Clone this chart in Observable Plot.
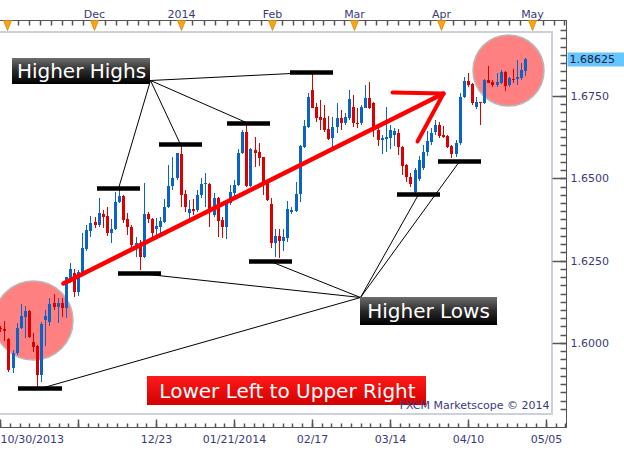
<!DOCTYPE html>
<html><head><meta charset="utf-8">
<script src="https://cdn.jsdelivr.net/npm/d3@7"></script>
<script src="https://cdn.jsdelivr.net/npm/@observablehq/plot@0.6"></script>
<style>html,body{margin:0;padding:0;background:#fff;overflow:hidden}</style>
</head><body><div id="chart"></div>
<script>
// ---- candle data (daily OHLC, oldest first) ----
const open  = [1.6044,1.6042,1.6012,1.5923,1.5969,1.6046,1.6079,1.6097,1.6003,1.5991,1.5903,1.6070,1.6064,1.6121,1.6109,1.6121,1.6106,1.6185,1.6212,1.6155,1.6215,1.6285,1.6340,1.6367,1.6358,1.6392,1.6386,1.6334,1.6346,1.6428,1.6446,1.6376,1.6352,1.6291,1.6304,1.6261,1.6392,1.6376,1.6346,1.6352,1.6367,1.6413,1.6477,1.6501,1.6574,1.6452,1.6395,1.6407,1.6404,1.6449,1.6483,1.6483,1.6389,1.6440,1.6373,1.6352,1.6425,1.6455,1.6480,1.6577,1.6641,1.6477,1.6586,1.6580,1.6565,1.6492,1.6422,1.6304,1.6325,1.6310,1.6319,1.6398,1.6401,1.6452,1.6595,1.6656,1.6768,1.6716,1.6686,1.6683,1.6650,1.6622,1.6656,1.6683,1.6668,1.6683,1.6717,1.6668,1.6668,1.6713,1.6744,1.6729,1.6647,1.6616,1.6619,1.6622,1.6632,1.6638,1.6595,1.6540,1.6504,1.6458,1.6498,1.6531,1.6580,1.6610,1.6641,1.6662,1.6632,1.6628,1.6598,1.6574,1.6607,1.6747,1.6796,1.6786,1.6717,1.6732,1.6729,1.6799,1.6792,1.6783,1.6789,1.6823,1.6783,1.6802,1.6802,1.6805,1.6826];
const high  = [1.6052,1.6068,1.6015,1.5979,1.6061,1.6118,1.6112,1.6100,1.6030,1.5994,1.6064,1.6100,1.6137,1.6149,1.6137,1.6137,1.6200,1.6243,1.6225,1.6222,1.6334,1.6358,1.6386,1.6383,1.6440,1.6404,1.6413,1.6376,1.6458,1.6468,1.6449,1.6395,1.6358,1.6322,1.6313,1.6486,1.6398,1.6380,1.6380,1.6383,1.6437,1.6540,1.6565,1.6577,1.6601,1.6465,1.6434,1.6437,1.6465,1.6501,1.6516,1.6486,1.6455,1.6443,1.6383,1.6434,1.6480,1.6495,1.6589,1.6647,1.6668,1.6592,1.6625,1.6607,1.6565,1.6495,1.6440,1.6346,1.6346,1.6346,1.6431,1.6413,1.6489,1.6601,1.6677,1.6759,1.6820,1.6729,1.6738,1.6723,1.6689,1.6686,1.6729,1.6707,1.6698,1.6768,1.6753,1.6713,1.6723,1.6783,1.6792,1.6732,1.6653,1.6632,1.6717,1.6662,1.6653,1.6650,1.6598,1.6543,1.6516,1.6531,1.6568,1.6601,1.6644,1.6653,1.6677,1.6671,1.6659,1.6632,1.6601,1.6616,1.6759,1.6808,1.6820,1.6789,1.6747,1.6732,1.6802,1.6841,1.6799,1.6820,1.6829,1.6826,1.6808,1.6832,1.6859,1.6850,1.6866];
const low   = [1.6033,1.6007,1.5912,1.5909,1.5963,1.6042,1.6015,1.6015,1.5973,1.5866,1.5881,1.5991,1.6052,1.6100,1.6061,1.6079,1.6076,1.6182,1.6140,1.6143,1.6212,1.6279,1.6322,1.6349,1.6352,1.6349,1.6325,1.6304,1.6343,1.6425,1.6364,1.6328,1.6282,1.6261,1.6222,1.6258,1.6364,1.6322,1.6328,1.6334,1.6364,1.6410,1.6465,1.6495,1.6413,1.6398,1.6367,1.6389,1.6398,1.6440,1.6413,1.6352,1.6383,1.6322,1.6319,1.6316,1.6419,1.6440,1.6477,1.6574,1.6474,1.6474,1.6534,1.6537,1.6449,1.6431,1.6288,1.6261,1.6258,1.6279,1.6307,1.6392,1.6398,1.6428,1.6592,1.6653,1.6713,1.6671,1.6647,1.6641,1.6616,1.6592,1.6638,1.6647,1.6662,1.6677,1.6656,1.6653,1.6662,1.6713,1.6710,1.6625,1.6598,1.6574,1.6580,1.6589,1.6598,1.6571,1.6510,1.6489,1.6474,1.6455,1.6492,1.6525,1.6568,1.6601,1.6632,1.6622,1.6622,1.6592,1.6562,1.6565,1.6601,1.6744,1.6777,1.6723,1.6710,1.6662,1.6726,1.6789,1.6777,1.6777,1.6786,1.6765,1.6777,1.6789,1.6783,1.6799,1.6811];
const close = [1.6041,1.6037,1.5918,1.5970,1.6046,1.6082,1.6097,1.6018,1.5988,1.5903,1.6058,1.6082,1.6118,1.6109,1.6121,1.6106,1.6200,1.6225,1.6155,1.6215,1.6288,1.6343,1.6364,1.6358,1.6395,1.6383,1.6334,1.6346,1.6428,1.6446,1.6373,1.6352,1.6297,1.6304,1.6261,1.6392,1.6376,1.6334,1.6355,1.6370,1.6413,1.6477,1.6501,1.6577,1.6449,1.6413,1.6407,1.6401,1.6449,1.6483,1.6486,1.6404,1.6440,1.6370,1.6352,1.6428,1.6458,1.6480,1.6577,1.6641,1.6477,1.6589,1.6577,1.6562,1.6489,1.6434,1.6304,1.6325,1.6310,1.6322,1.6407,1.6404,1.6452,1.6598,1.6659,1.6747,1.6713,1.6683,1.6677,1.6647,1.6619,1.6656,1.6683,1.6668,1.6686,1.6741,1.6668,1.6665,1.6717,1.6744,1.6713,1.6653,1.6616,1.6622,1.6625,1.6647,1.6644,1.6595,1.6537,1.6504,1.6483,1.6525,1.6556,1.6580,1.6613,1.6638,1.6662,1.6628,1.6625,1.6595,1.6574,1.6607,1.6747,1.6796,1.6783,1.6729,1.6732,1.6729,1.6799,1.6789,1.6783,1.6792,1.6823,1.6780,1.6805,1.6799,1.6808,1.6829,1.68625];
const lastPrice = 1.68625;

// ---- axes ----
const priceTicks = [1.6000, 1.6250, 1.6500, 1.6750];
const dateTickPos = [0, 19, 38, 57, 76, 95, 114, 133];
const dateLabels = ["10/30/2013", "", "12/23", "01/21/2014", "02/17", "03/14", "04/10", "05/05"];
const monthPos = [1.7, 22.9, 44.1, 66.3, 86.3, 107.5, 129.6];
const monthLabels = ["", "Dec", "2014", "Feb", "Mar", "Apr", "May"];

// ---- annotations ----
const highBarIdx = [28.8, 43.9, 60.5, 75.8];
const highBarLevel = [1.6471, 1.6604, 1.6668, 1.6823];
const lowBarIdx = [9.7, 33.9, 65.8, 101.9, 111.9];
const lowBarLevel = [1.5863, 1.6212, 1.6249, 1.6452, 1.6554];
const hhHub = {i: 36.52, p: 1.67985};
const hlHub = {i: 87.71, p: 1.61395};
const trendIdx = [15.31, 107.95];
const trendLevel = [1.6182, 1.6759];
const arrowIdx = [95.51, 107.95, 101.49];
const arrowLevel = [1.6762, 1.6759, 1.6613];
const circleIdx = [7.99, 123.74];
const circleLevel = [1.6070, 1.6830];
const labelText = ["Higher Highs", "Higher Lows", "Lower Left to Upper Right"];
const labelX1 = [2.88, 87.71, 35.79];
const labelX2 = [36.52, 121.11, 103.80];
const labelYlo = [1.67864, 1.60545, 1.58115];
const labelYhi = [1.68654, 1.61395, 1.58996];
const labelKind = ["dark", "dark", "red"];

// ---- build tables ----
const candles = open.map((o, i) => ({i, o, h: high[i], l: low[i], c: close[i]}));
const up = "#0a64c8", down = "#dc0000";
const col = d => d.c >= d.o ? up : down;
const highBars = highBarIdx.map((i, k) => ({i, p: highBarLevel[k]}));
const lowBars = lowBarIdx.map((i, k) => ({i, p: lowBarLevel[k]}));
const trend = trendIdx.map((i, k) => ({i, p: trendLevel[k]}));
const arrow = arrowIdx.map((i, k) => ({i, p: arrowLevel[k]}));
const labels = labelText.map((t, k) => ({t, x1: labelX1[k], x2: labelX2[k], y1: labelYlo[k], y2: labelYhi[k], kind: labelKind[k]}));
const months = monthPos.map((x, k) => ({x, t: monthLabels[k]}));
const dates = dateTickPos.map((x, k) => ({x, t: dateLabels[k]}));

const monthMinor = [];
for (let k = 0; k < monthPos.length - 1; k++) {
  const step = (monthPos[k + 1] - monthPos[k]) / 8;
  for (let j = 0; j < 8; j++) monthMinor.push(monthPos[k] + j * step);
}
for (let x = monthPos[monthPos.length - 1]; x < 138; x += 2.65) monthMinor.push(x);
const dateMinor = d3.range(0, 138, 19 / 8);
const priceMinor = d3.range(1.58, 1.6951, 0.0025);

const sym = f => ({draw: f});
const triDown = sym(c => { c.moveTo(-4, 0); c.lineTo(4, 0); c.lineTo(0, 10); c.closePath(); });
const tickDown = n => sym(c => { c.moveTo(0, 0); c.lineTo(0, n); });
const tickUp = n => sym(c => { c.moveTo(0, 0); c.lineTo(0, -n); });
const tickLeft = n => sym(c => { c.moveTo(0, 0); c.lineTo(-n, 0); });
const priceBox = sym(c => { c.rect(1, -7, 58, 14); });

const axisInk = "#3a3a7a";
const lineInk = "#555";

const chart = Plot.plot({
  width: 624, height: 453,
  marginLeft: 0, marginRight: 58, marginTop: 20, marginBottom: 26,
  x: {domain: [-0.05, 137.93], axis: null, round: true},
  y: {domain: [1.57447, 1.69808], axis: null, round: true},
  style: {fontFamily: "DejaVu Sans, Verdana, sans-serif", fontSize: "11px", background: "#fff", overflow: "visible"},
  marks: [
    // plot border
    Plot.rect([{}], {x1: -0.3, x2: 134.5, y1: 1.5784, y2: 1.6944, fill: "none", stroke: "#cdd2da", strokeWidth: 2}),
    // highlight circles
    Plot.dot([{i: circleIdx[0], p: circleLevel[0]}], {x: "i", y: "p", r: 39.5, fill: "#ff8080", stroke: "#b8b8b8", strokeWidth: 1.5}),
    Plot.dot([{i: circleIdx[1], p: circleLevel[1]}], {x: "i", y: "p", r: 35.5, fill: "#ff8080", stroke: "#b8b8b8", strokeWidth: 1.5}),
    // candles
    Plot.ruleX(candles, {x: "i", y1: "l", y2: "h", stroke: col, strokeWidth: 1}),
    Plot.ruleX(candles, {x: "i", y1: "o", y2: "c", stroke: col, strokeWidth: 3}),
    // trend line + arrow
    Plot.line(trend, {x: "i", y: "p", stroke: "#ff0000", strokeWidth: 4.5}),
    Plot.line(arrow, {x: "i", y: "p", stroke: "#ff0000", strokeWidth: 4, strokeLinejoin: "miter"}),
    // connector lines
    Plot.link(highBars, {x1: () => hhHub.i, y1: () => hhHub.p, x2: "i", y2: "p", stroke: "#000", strokeWidth: 1}),
    Plot.link(lowBars, {x1: () => hlHub.i, y1: () => hlHub.p, x2: "i", y2: "p", stroke: "#000", strokeWidth: 1}),
    // extreme bars
    Plot.ruleY(highBars, {y: "p", x1: d => d.i - 5.25, x2: d => d.i + 5.25, stroke: "#000", strokeWidth: 4.5}),
    Plot.ruleY(lowBars, {y: "p", x1: d => d.i - 5.25, x2: d => d.i + 5.25, stroke: "#000", strokeWidth: 4.5}),
    // label boxes
    Plot.rect(labels.filter(d => d.kind === "dark"), {x1: "x1", x2: "x2", y1: "y1", y2: "y2", fill: "url(#gDark)"}),
    Plot.rect(labels.filter(d => d.kind === "red"), {x1: "x1", x2: "x2", y1: "y1", y2: "y2", fill: "url(#gRed)"}),
    Plot.text(labels, {x: d => (d.x1 + d.x2) / 2, y: d => (d.y1 + d.y2) / 2, text: "t", fill: "#fff", fontSize: 20}),
    // watermark
    Plot.text(["FXCM Marketscope © 2014"], {frameAnchor: "bottom-right", dx: -17, dy: -19, textAnchor: "end", fill: axisInk, fontSize: 11}),
    // axis lines
    Plot.frame({anchor: "top", stroke: lineInk}),
    Plot.frame({anchor: "bottom", stroke: lineInk}),
    Plot.frame({anchor: "right", stroke: lineInk}),
    // top axis
    Plot.dot(monthMinor, {x: d => d, frameAnchor: "top", symbol: tickDown(5), stroke: lineInk, fill: "none"}),
    Plot.dot(months, {x: "x", frameAnchor: "top", symbol: triDown, fill: "#f7a31c", stroke: "#d98b00", strokeWidth: 0.8}),
    Plot.text(months, {x: "x", frameAnchor: "top", dy: -10, text: "t", fill: axisInk}),
    // bottom axis
    Plot.dot(dateMinor, {x: d => d, frameAnchor: "bottom", symbol: tickUp(4), stroke: lineInk, fill: "none"}),
    Plot.dot(dates, {x: "x", frameAnchor: "bottom", symbol: tickUp(8), stroke: lineInk, fill: "none"}),
    Plot.text(dates.slice(0, 1), {x: "x", frameAnchor: "bottom", dy: 15, text: "t", textAnchor: "start", fill: axisInk}),
    Plot.text(dates.slice(1), {x: "x", frameAnchor: "bottom", dy: 15, text: "t", fill: axisInk}),
    // right axis
    Plot.dot(priceMinor, {y: d => d, frameAnchor: "right", symbol: tickLeft(6), stroke: lineInk, fill: "none"}),
    Plot.dot(priceTicks, {y: d => d, frameAnchor: "right", symbol: tickLeft(14), stroke: lineInk, fill: "none"}),
    Plot.text(priceTicks, {y: d => d, frameAnchor: "right", dx: 4, textAnchor: "start", text: d => d.toFixed(4), fill: axisInk}),
    Plot.dot([lastPrice], {y: d => d, frameAnchor: "right", symbol: priceBox, fill: "#66c6ff", stroke: "none"}),
    Plot.text([lastPrice], {y: d => d, frameAnchor: "right", dx: 3, textAnchor: "start", text: d => d.toFixed(5), fill: "#1a1a40"})
  ]
});

const svg = d3.select(chart);
svg.insert("defs", ":first-child").html(`
  <linearGradient id="gDark" x1="0" y1="0" x2="0" y2="1">
    <stop offset="0" stop-color="#6e6e6e"/><stop offset="0.5" stop-color="#2a2a2a"/><stop offset="1" stop-color="#000"/>
  </linearGradient>
  <linearGradient id="gRed" x1="0" y1="0" x2="0" y2="1">
    <stop offset="0" stop-color="#ff1a1a"/><stop offset="1" stop-color="#d40000"/>
  </linearGradient>`);
document.getElementById("chart").appendChild(chart);
</script></body></html>
